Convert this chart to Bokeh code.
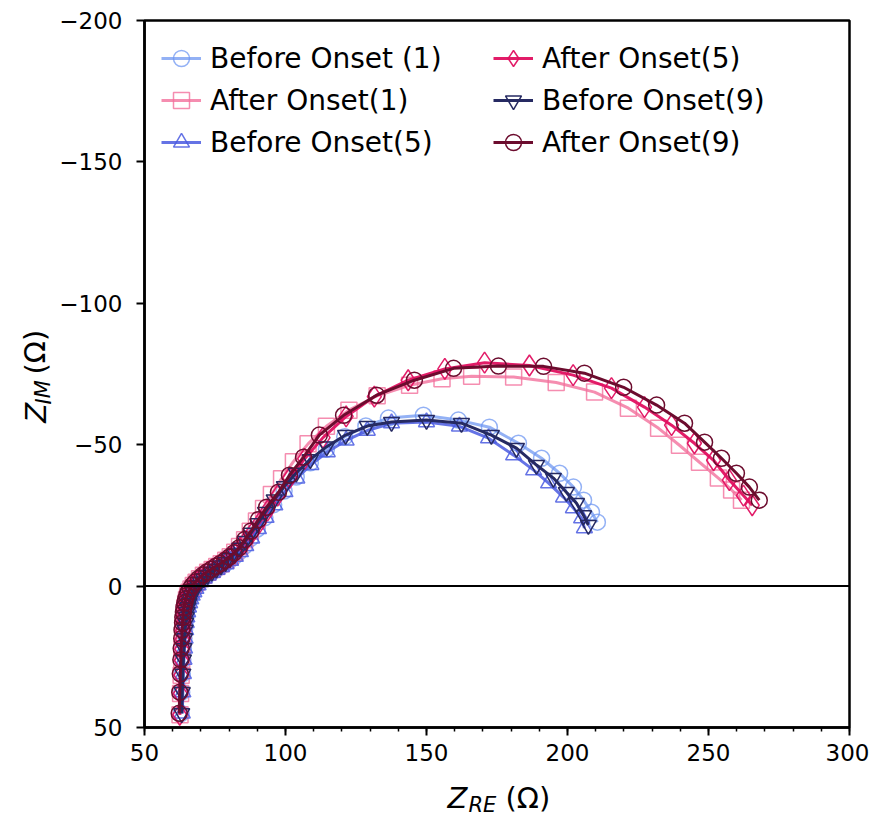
from bokeh.plotting import figure
from bokeh.models import Range1d, FixedTicker, Span
from bokeh.layouts import row, column
from bokeh.embed import file_html
from bokeh.resources import INLINE
from bokeh.core.properties import value

# ---------------- data ----------------
x_ticks = [50, 100, 150, 200, 250, 300]
x_minor_ticks = [50, 60, 70, 80, 90, 100, 110, 120, 130, 140, 150, 160, 170, 180, 190, 200,
                 210, 220, 230, 240, 250, 260, 270, 280, 290, 300]
y_ticks = [-200, -150, -100, -50, 0, 50]
y_tick_labels = ["\u2212200", "\u2212150", "\u2212100", "\u221250", "0", "50"]

names = ["Before Onset (1)", "After Onset(1)", "Before Onset(5)",
         "After Onset(5)", "Before Onset(9)", "After Onset(9)"]

re_bo1 = [63.0, 63.2, 63.4, 63.6, 63.8, 64.0, 64.2, 64.4, 64.6, 64.9, 65.2, 65.6, 66.0, 66.5, 67.1,
          67.8, 68.6, 69.6, 70.8, 72.2, 73.7, 75.3, 76.9, 78.5, 80.1, 81.8, 83.6, 85.5, 87.6, 90.0,
          92.7, 95.8, 99.5, 103.8, 108.8, 114.5, 121.0, 128.5, 136.5, 148.9, 161.3, 172.3, 182.6,
          190.8, 197.2, 202.1, 205.7, 208.5, 210.6]
im_bo1 = [45.0, 37.5, 31.0, 26.0, 22.0, 18.5, 15.5, 13.0, 11.0, 9.2, 7.5, 6.0, 4.6, 3.3, 2.1,
          0.9, -0.3, -1.5, -2.7, -3.8, -4.8, -5.8, -6.8, -7.8, -9.0, -10.4, -12.1, -14.2, -16.9, -20.2,
          -24.2, -28.8, -33.6, -38.6, -43.6, -48.4, -52.8, -56.6, -59.4, -60.4, -58.7, -56.2, -50.5,
          -45.2, -39.9, -35.0, -30.4, -26.1, -22.6]

re_ao1 = [62.6, 62.8, 63.0, 63.2, 63.3, 63.5, 63.6, 63.8, 63.9, 64.1, 64.3, 64.6, 64.9, 65.3, 65.8,
          66.5, 67.3, 68.3, 69.5, 70.9, 72.4, 74.0, 75.6, 77.2, 78.8, 80.4, 82.0, 83.7, 85.5, 87.5,
          89.7, 92.2, 95.0, 98.6, 102.8, 108.0, 114.5, 122.5, 132.5, 144.0, 155.5, 166.0, 180.9,
          196.0, 209.6, 221.6, 232.3, 239.7, 246.8, 253.5, 258.2, 261.7]
im_ao1 = [45.5, 38.0, 31.5, 26.3, 22.3, 18.8, 15.8, 13.2, 11.1, 9.3, 7.6, 6.1, 4.7, 3.4, 2.2,
          1.0, -0.2, -1.4, -2.6, -3.8, -4.9, -5.9, -6.9, -7.9, -9.1, -10.4, -12.0, -14.0, -16.4, -19.4,
          -23.0, -27.4, -32.4, -38.0, -44.0, -50.3, -56.5, -62.2, -67.3, -71.0, -73.3, -74.2, -73.9,
          -72.0, -68.6, -62.9, -55.8, -49.8, -43.8, -38.2, -34.0, -30.4]

re_bo5 = [63.4, 63.6, 63.8, 64.0, 64.2, 64.4, 64.6, 64.8, 65.0, 65.3, 65.6, 66.0, 66.4, 66.9, 67.5,
          68.2, 69.0, 70.0, 71.2, 72.6, 74.1, 75.7, 77.3, 78.9, 80.5, 82.2, 84.0, 85.9, 88.0, 90.4,
          93.1, 96.2, 99.8, 104.0, 109.0, 114.8, 121.5, 129.0, 137.6, 150.0, 161.7, 172.0, 180.9,
          188.0, 193.3, 198.6, 202.1, 205.0, 206.0]
im_bo5 = [45.0, 37.5, 31.0, 26.0, 22.0, 18.5, 15.5, 13.0, 11.0, 9.2, 7.5, 6.0, 4.6, 3.3, 2.1,
          0.9, -0.3, -1.5, -2.7, -3.8, -4.8, -5.8, -6.8, -7.8, -9.0, -10.4, -12.1, -14.2, -16.9, -20.2,
          -24.2, -28.6, -33.3, -38.1, -42.9, -47.4, -51.5, -55.0, -57.6, -58.0, -56.5, -52.3, -46.3,
          -41.0, -36.4, -31.4, -27.6, -24.0, -20.5]

re_ao5 = [62.5, 62.7, 62.9, 63.1, 63.2, 63.4, 63.5, 63.7, 63.8, 64.0, 64.2, 64.5, 64.8, 65.2, 65.7,
          66.4, 67.2, 68.2, 69.4, 70.8, 72.3, 73.9, 75.5, 77.1, 78.7, 80.3, 82.0, 83.8, 85.8, 88.0,
          90.6, 93.6, 97.2, 101.5, 106.8, 113.3, 121.5, 131.5, 143.5, 156.5, 170.6, 186.5, 202.0,
          215.6, 227.3, 236.9, 245.0, 251.8, 257.4, 262.4, 265.5]
im_ao5 = [45.5, 38.0, 31.5, 26.3, 22.3, 18.8, 15.8, 13.2, 11.1, 9.3, 7.6, 6.1, 4.7, 3.4, 2.2,
          1.0, -0.2, -1.4, -2.6, -3.8, -4.9, -5.9, -6.9, -7.9, -9.0, -10.2, -11.7, -13.5, -15.8, -18.6,
          -22.2, -26.7, -32.0, -38.3, -45.0, -52.5, -60.0, -67.0, -72.8, -76.8, -79.0, -78.0, -74.6,
          -70.0, -63.3, -56.9, -50.5, -44.5, -37.5, -32.0, -28.6]

re_bo9 = [63.2, 63.4, 63.6, 63.8, 64.0, 64.2, 64.4, 64.6, 64.8, 65.1, 65.4, 65.8, 66.2, 66.7, 67.3,
          68.0, 68.8, 69.8, 71.0, 72.4, 73.9, 75.5, 77.1, 78.7, 80.3, 82.0, 83.8, 85.7, 87.8, 90.2,
          92.9, 96.0, 99.6, 103.8, 108.8, 114.6, 121.3, 129.0, 137.6, 150.0, 162.4, 173.0, 181.9,
          189.0, 195.0, 199.6, 203.2, 205.7, 207.4]
im_bo9 = [45.0, 37.5, 31.0, 26.0, 22.0, 18.5, 15.5, 13.0, 11.0, 9.2, 7.5, 6.0, 4.6, 3.3, 2.1,
          0.9, -0.3, -1.5, -2.7, -3.9, -5.0, -6.1, -7.2, -8.4, -9.8, -11.5, -13.5, -15.9, -18.8, -22.2,
          -26.2, -30.6, -35.3, -40.0, -44.8, -49.3, -53.4, -56.6, -58.0, -58.7, -57.6, -53.4, -48.8,
          -42.8, -38.2, -33.2, -29.3, -25.0, -21.6]

re_ao9 = [62.3, 62.5, 62.7, 62.9, 63.0, 63.2, 63.3, 63.5, 63.6, 63.8, 64.0, 64.3, 64.6, 65.0, 65.5,
          66.2, 67.0, 68.0, 69.2, 70.6, 72.1, 73.7, 75.3, 76.9, 78.5, 80.1, 81.8, 83.6, 85.6, 87.8,
          90.4, 93.3, 97.5, 101.4, 106.4, 112.0, 120.6, 132.3, 145.7, 159.6, 175.5, 191.5, 206.0,
          219.9, 231.6, 241.5, 248.6, 254.6, 259.9, 264.5, 268.0]
im_ao9 = [45.0, 37.5, 31.0, 26.0, 22.0, 18.5, 15.5, 13.0, 11.0, 9.2, 7.5, 6.0, 4.6, 3.3, 2.1,
          0.9, -0.3, -1.5, -2.7, -3.9, -5.0, -6.0, -7.0, -8.0, -9.1, -10.3, -11.8, -13.6, -16.5, -19.5,
          -23.5, -27.9, -33.2, -39.2, -45.6, -53.4, -60.4, -67.5, -72.8, -77.0, -77.8, -77.7, -75.3,
          -70.3, -64.0, -57.6, -50.9, -45.2, -39.9, -35.0, -30.4]

series_re = [re_bo1, re_ao1, re_bo5, re_ao5, re_bo9, re_ao9]
series_im = [im_bo1, im_ao1, im_bo5, im_ao5, im_bo9, im_ao9]
colors = ["#6f97f2", "#f2709c", "#4a5ae0", "#e01060", "#262a62", "#6c0c2e"]
alphas = [0.75, 0.8, 0.85, 0.95, 1.0, 1.0]
markers = ["circle", "square", "triangle", "diamond", "inverted_triangle", "circle"]
sizes = [16, 16, 16, 21, 16, 16]

# axis title pieces: italic symbol, italic subscript, upright unit
xlabel_sym, xlabel_sub, xlabel_unit = "Z", "RE", "(\u03a9)"
ylabel_sym, ylabel_sub, ylabel_unit = "Z", "IM", "(\u03a9)"

FONT = "DejaVu Sans"


def strip_figure(w, h):
    f = figure(width=w, height=h, x_range=Range1d(0, w), y_range=Range1d(0, h),
               x_axis_location=None, y_axis_location=None,
               output_backend="svg", toolbar_location=None, min_border=0, title=None)
    f.grid.visible = False
    f.outline_line_color = None
    return f


# ---------------- main figure ----------------
YLAB_W = 56
BORDER_BOTTOM = 50
p = figure(frame_width=705, frame_height=707,
           x_range=Range1d(50, 300), y_range=Range1d(50, -200),
           output_backend="svg", toolbar_location=None, title=None,
           min_border_left=87, min_border_top=20, min_border_right=20,
           min_border_bottom=BORDER_BOTTOM)
p.xgrid.visible = False
p.ygrid.visible = False
p.background_fill_color = "white"
p.border_fill_color = "white"
p.outline_line_color = "black"
p.outline_line_width = 2.5

for ax in (p.xaxis[0], p.yaxis[0]):
    ax.axis_line_width = 2.5
    ax.axis_line_color = "black"
    ax.major_tick_line_width = 2
    ax.major_tick_out = 8
    ax.major_tick_in = 0
    ax.minor_tick_line_width = 1.5
    ax.minor_tick_out = 4
    ax.minor_tick_in = 0
    ax.major_label_text_font = FONT
    ax.major_label_text_font_size = "23px"
    ax.major_label_text_color = "black"
    ax.axis_label = None
    ax.axis_label_standoff = 0

p.xaxis[0].major_label_standoff = 8
p.yaxis[0].major_label_standoff = 14
p.xaxis[0].ticker = FixedTicker(ticks=x_ticks, minor_ticks=x_minor_ticks)
p.yaxis[0].ticker = FixedTicker(ticks=y_ticks, minor_ticks=[])
p.yaxis[0].major_label_overrides = {t: l for t, l in zip(y_ticks, y_tick_labels)}

p.add_layout(Span(location=0, dimension="width", line_color="black", line_width=2))

for name, xs, ys, c, a, m, s in zip(names, series_re, series_im, colors, alphas, markers, sizes):
    p.line(xs, ys, line_color=c, line_width=3, line_alpha=a, legend_label=name)
    p.scatter(xs, ys, marker=m, size=s, fill_color=None, line_color=c,
              line_width=1.5, line_alpha=a, legend_label=name)

lg = p.legend[0]
lg.location = "top_left"
lg.ncols = 2
lg.margin = 6
lg.padding = 11
lg.spacing = 0
lg.glyph_width = 40
lg.glyph_height = 42
lg.label_height = 42
lg.label_width = 283
lg.label_standoff = 9
lg.label_text_font = FONT
lg.label_text_font_size = "28px"
lg.label_text_color = "black"
lg.border_line_alpha = 0
lg.background_fill_alpha = 0.8

P_H = 20 + 707 + BORDER_BOTTOM
P_W = 87 + 705 + 20

# ---------------- y-axis title strip ----------------
ylab = strip_figure(YLAB_W, P_H)
ylab.text(x=[35, 43], y=[P_H - 442, P_H - 422], text=[ylabel_sym, ylabel_sub], angle=1.5708,
          text_font=value(FONT), text_font_style="italic",
          text_font_size=["29px", "21px"], text_baseline="alphabetic",
          text_align="left", text_color="black")
ylab.text(x=[35], y=[P_H - 389], text=[ylabel_unit], angle=1.5708,
          text_font=value(FONT), text_font_style="normal", text_font_size="29px",
          text_baseline="alphabetic", text_align="left", text_color="black")

# ---------------- x-axis title strip ----------------
XLAB_H = 814 - P_H
xlab = strip_figure(YLAB_W + P_W, XLAB_H)
xlab.text(x=[447, 468], y=[17, 10], text=[xlabel_sym, xlabel_sub],
          text_font=value(FONT), text_font_style="italic",
          text_font_size=["29px", "21px"], text_baseline="alphabetic",
          text_align="left", text_color="black")
xlab.text(x=[505], y=[17], text=[xlabel_unit],
          text_font=value(FONT), text_font_style="normal", text_font_size="29px",
          text_baseline="alphabetic", text_align="left", text_color="black")

layout = column(row(ylab, p, spacing=0), xlab, spacing=0)
open("out.html", "w").write(file_html(layout, INLINE))
